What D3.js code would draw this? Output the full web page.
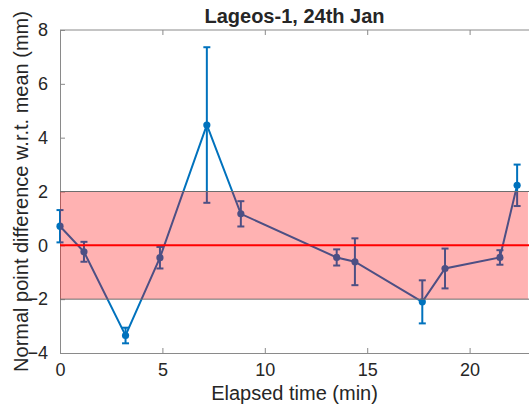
<!DOCTYPE html>
<html>
<head>
<meta charset="utf-8">
<script src="https://cdn.jsdelivr.net/npm/d3@7"></script>
<style>
    body { margin: 0; background: #fff; }
    text { font-family: "Liberation Sans", Arial, Helvetica, sans-serif; fill: #262626; }
</style>
</head>
<body>
<svg id="chart"></svg>
<script>
// elapsed time (min), mean difference (mm) and error bar half widths (mm)
const times = [0, 1.17, 3.2, 4.88, 7.17, 8.83, 13.51, 14.4, 17.69, 18.8, 21.48, 22.32];
const means = [0.71, -0.24, -3.35, -0.46, 4.47, 1.17, -0.45, -0.61, -2.1, -0.86, -0.45, 2.23];
const errs = [0.6, 0.37, 0.29, 0.4, 2.89, 0.47, 0.3, 0.87, 0.8, 0.74, 0.27, 0.77];

const xTicks = [0, 5, 10, 15, 20];
const yTicks = [-4, -2, 0, 2, 4, 6, 8];
const xDomain = [0, 22.9];
const yDomain = [-4, 8];
const band = [-2, 2];
const bandX = [0, 22.85];

const title = 'Lageos-1, 24th Jan';
const xLabel = 'Elapsed time (min)';
const yLabel = 'Normal point difference w.r.t. mean (mm)';

const W = 529, H = 407;
const margin = { top: 30, left: 60, right: 0, bottom: 54 };
const BLUE = '#0072BD';
const AXIS = '#8a8a8a';
const TICKLEN = 5;
const CAP = 3.5;

const data = times.map((t, i) => ({ t: t, m: means[i], e: errs[i] }));

const svg = d3.select('#chart').attr('width', W).attr('height', H);

const x = d3.scaleLinear().domain(xDomain).range([margin.left, W - margin.right]);
const y = d3.scaleLinear().domain(yDomain).range([H - margin.bottom, margin.top]);

/** axes box + inward ticks */
const xAxis = svg.append('g')
    .attr('transform', `translate(0, ${y(yDomain[0])})`)
    .call(d3.axisBottom(x).tickValues(xTicks).tickSizeInner(-TICKLEN).tickSizeOuter(0).tickPadding(10));
const xTop = svg.append('g')
    .attr('transform', `translate(0, ${y(yDomain[1])})`)
    .call(d3.axisTop(x).tickValues(xTicks).tickSizeInner(-TICKLEN).tickSizeOuter(0).tickFormat(''));
const yAxis = svg.append('g')
    .attr('transform', `translate(${x(xDomain[0])}, 0)`)
    .call(d3.axisLeft(y).tickValues(yTicks).tickSizeInner(-TICKLEN).tickSizeOuter(0).tickPadding(12));

[xAxis, xTop, yAxis].forEach((g) => {
    g.select('.domain').attr('stroke', AXIS);
    g.selectAll('.tick line').attr('stroke', AXIS);
    g.selectAll('.tick text').style('font-size', '18px').attr('fill', '#262626');
});
xTop.select('.domain').attr('d', `M${x(xDomain[0])},0H${W}`);

/** data line */
svg.append('path')
    .datum(data)
    .attr('fill', 'none')
    .attr('stroke', BLUE)
    .attr('stroke-width', 2)
    .attr('d', d3.line().x((d) => x(d.t)).y((d) => y(d.m)));

/** error bars */
const eb = svg.append('g').selectAll('g')
    .data(data)
    .enter()
    .append('g')
    .attr('stroke', BLUE)
    .attr('stroke-width', 2);

eb.append('line')
    .attr('x1', (d) => x(d.t)).attr('x2', (d) => x(d.t))
    .attr('y1', (d) => y(d.m - d.e)).attr('y2', (d) => y(d.m + d.e));
eb.append('line')
    .attr('x1', (d) => x(d.t) - CAP).attr('x2', (d) => x(d.t) + CAP)
    .attr('y1', (d) => y(d.m + d.e)).attr('y2', (d) => y(d.m + d.e));
eb.append('line')
    .attr('x1', (d) => x(d.t) - CAP).attr('x2', (d) => x(d.t) + CAP)
    .attr('y1', (d) => y(d.m - d.e)).attr('y2', (d) => y(d.m - d.e));

svg.append('g').selectAll('circle')
    .data(data)
    .enter()
    .append('circle')
    .attr('cx', (d) => x(d.t))
    .attr('cy', (d) => y(d.m))
    .attr('r', 3.6)
    .attr('fill', BLUE);

/** +-2 mm band drawn over the data, then the zero line */
svg.append('rect')
    .attr('x', x(bandX[0]))
    .attr('width', x(bandX[1]) - x(bandX[0]))
    .attr('y', y(band[1]))
    .attr('height', y(band[0]) - y(band[1]))
    .attr('fill', 'red')
    .attr('fill-opacity', 0.3);

svg.selectAll('.bandEdge')
    .data(band)
    .enter()
    .append('line')
    .attr('class', 'bandEdge')
    .attr('x1', x(bandX[0])).attr('x2', W)
    .attr('y1', (d) => y(d)).attr('y2', (d) => y(d))
    .attr('stroke', '#6e6e6e')
    .attr('stroke-width', 1);

svg.append('line')
    .attr('x1', x(xDomain[0])).attr('x2', x(xDomain[1]))
    .attr('y1', y(0)).attr('y2', y(0))
    .attr('stroke', '#ff0000')
    .attr('stroke-width', 2);

/** labels */
svg.append('text')
    .attr('x', (x(xDomain[0]) + x(xDomain[1])) / 2)
    .attr('y', 22.5)
    .attr('text-anchor', 'middle')
    .style('font-size', '20px')
    .style('font-weight', 'bold')
    .attr('fill', '#000')
    .text(title);

svg.append('text')
    .attr('x', (x(xDomain[0]) + x(xDomain[1])) / 2)
    .attr('y', 400)
    .attr('text-anchor', 'middle')
    .style('font-size', '20px')
    .text(xLabel);

svg.append('text')
    .attr('transform', `translate(28, ${(y(yDomain[0]) + y(yDomain[1])) / 2}) rotate(-90)`)
    .attr('text-anchor', 'middle')
    .style('font-size', '20px')
    .text(yLabel);
</script>
</body>
</html>
